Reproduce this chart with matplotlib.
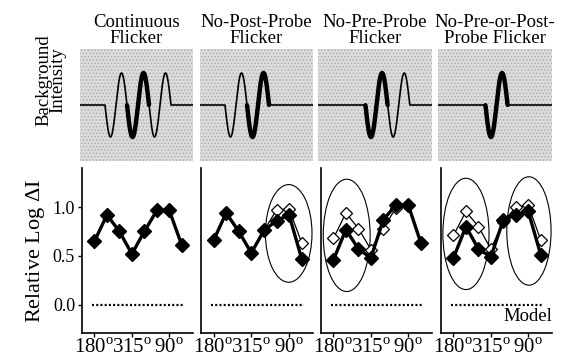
"""
Background flicker conditions and relative log threshold by probe phase
"""
import numpy as np
import matplotlib.pyplot as plt
from matplotlib.patches import Ellipse, Rectangle

plt.rcParams['font.family'] = 'Liberation Serif'
plt.rcParams['mathtext.fontset'] = 'custom'
plt.rcParams['mathtext.rm'] = 'Liberation Serif'
plt.rcParams['hatch.linewidth'] = 0.6

# conditions
titles = ["Continuous\nFlicker", "No-Post-Probe\nFlicker",
          "No-Pre-Probe\nFlicker", "No-Pre-or-Post-\nProbe Flicker"]
pre_flicker = [True, True, False, False]
post_flicker = [True, False, True, False]

# probe phase (deg), only some labelled
phases = [180, 225, 270, 315, 0, 45, 90, 135]
labelled = [180, 315, 90]

# relative log delta I, filled diamonds
filled_1 = [0.65, 0.92, 0.75, 0.52, 0.75, 0.965, 0.965, 0.61]
filled_2 = [0.66, 0.94, 0.75, 0.53, 0.76, 0.86, 0.92, 0.47]
filled_3 = [0.46, 0.77, 0.57, 0.48, 0.87, 1.02, 1.02, 0.635]
filled_4 = [0.48, 0.80, 0.57, 0.49, 0.87, 0.92, 0.955, 0.51]

# open diamonds (continuous flicker comparison), nan = not drawn
nan = np.nan
open_1 = [nan] * 8
open_2 = [nan, nan, nan, nan, 0.76, 0.97, 0.98, 0.635]
open_3 = [0.68, 0.94, 0.78, 0.565, 0.78, 0.99, 1.02, 0.635]
open_4 = [0.71, 0.955, 0.80, 0.57, 0.85, 1.00, 1.02, 0.66]

model_level = 0.0

filled_all = [filled_1, filled_2, filled_3, filled_4]
open_all = [open_1, open_2, open_3, open_4]

# circled regions: (centre index, centre value, width, height)
circles = [[], [(5.97, 0.73, 3.7, 1.0)], [(1.06, 0.71, 3.76, 1.15)],
           [(1.0, 0.725, 3.7, 1.14), (6.05, 0.755, 3.55, 1.11)]]

W, H = 567, 360
fig = plt.figure(figsize=(W / 100, H / 100), dpi=100)


def box(left, top, right, bottom):
    return [left / W, 1 - bottom / H, (right - left) / W, (bottom - top) / H]


top_x = [(80, 193), (200, 313), (318, 432), (438, 552)]
bot_x = [(82, 193), (201, 313), (321, 432), (441, 552)]

# schematic stimulus: 22 units per cycle, pre / probe / post cycles
period = 22.0
t = np.linspace(0, 113, 1200)
for i in range(4):
    ax = fig.add_axes(box(top_x[i][0], 49, top_x[i][1], 161))
    for s in ax.spines.values():
        s.set_visible(False)
    ax.set_xticks([])
    ax.set_yticks([])
    ax.set_xlim(0, 113)
    ax.set_ylim(-1.75, 1.75)
    # stippled grey ground
    ax.add_patch(Rectangle((0, 0), 1, 1, transform=ax.transAxes,
                           facecolor='#dcdcdc', edgecolor='#a8a8a8',
                           hatch='.....', lw=0, zorder=0))
    start = 25 if pre_flicker[i] else 47
    stop = 91 if post_flicker[i] else 69
    on = (t >= start) & (t <= stop)
    wave = np.where(on, -np.sin(2 * np.pi * (t - 25) / period), 0.0)
    ax.plot(t, wave, color='black', lw=1.2)
    probe = (t >= 47) & (t <= 69)
    ax.plot(t[probe], wave[probe], color='black', lw=3.2,
            solid_capstyle='round')
    ax.set_title(titles[i], fontsize=13.5, linespacing=0.95, pad=4)

fig.text(51 / W, 1 - 80 / H, "Background\nIntensity", rotation=90,
         ha='center', va='center', fontsize=13.5, linespacing=0.8)

x = np.arange(len(phases))
for i in range(4):
    ax = fig.add_axes(box(bot_x[i][0], 168, bot_x[i][1], 333))
    ax.set_xlim(-1.0, 7.9)
    ax.set_ylim(-0.29, 1.4)
    ax.spines['top'].set_visible(False)
    ax.spines['right'].set_visible(False)
    ax.spines['left'].set_linewidth(1.2)
    ax.spines['bottom'].set_linewidth(1.2)

    ax.hlines(model_level, -0.2, 7.2, color='black', lw=1.6,
              linestyles=[(0, (0.9, 1.0))])
    for cx, cy, w, h in circles[i]:
        ax.add_patch(Ellipse((cx, cy), w, h, fill=False, lw=0.8,
                             color='black'))
    ax.plot(x, open_all[i], color='black', lw=0.9, marker='D', ms=6,
            mfc='white', mec='black', mew=0.9)
    ax.plot(x, filled_all[i], color='black', lw=2.4, marker='D', ms=7.5)

    ticks = [phases.index(p) for p in labelled]
    ax.set_xticks(ticks)
    ax.set_xticklabels([str(p) + r'$^{\rm o}$' for p in labelled],
                       fontsize=15)
    ax.tick_params(axis='x', direction='out', length=3, width=1, pad=1)
    if i == 0:
        ax.set_yticks([0.0, 0.5, 1.0])
        ax.set_yticklabels(["0.0", "0.5", "1.0"], fontsize=13)
        ax.tick_params(axis='y', direction='out', length=3, width=1, pad=2)
        ax.set_ylabel(r"Relative Log $\Delta$I", fontsize=16, labelpad=4)
    else:
        ax.set_yticks([])
    if i == 3:
        ax.text(7.9, -0.03, "Model", ha='right', va='top', fontsize=13.5)

fig.savefig("out.png", dpi=100)
